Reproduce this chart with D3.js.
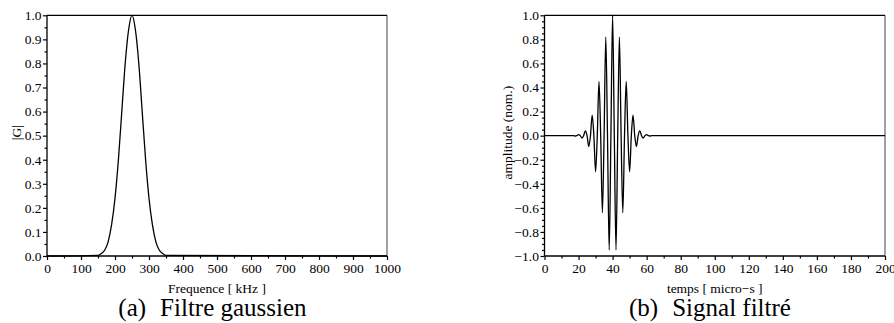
<!DOCTYPE html>
<html><head><meta charset="utf-8">
<script src="https://cdn.jsdelivr.net/npm/d3@7"></script>
<style>
html,body{margin:0;padding:0;background:#fff;}
svg{display:block;}
svg text{font-family:"Liberation Serif","Tinos","DejaVu Serif",serif !important;fill:#000;}
</style></head>
<body>
<svg id="chart" width="894" height="323"></svg>
<script>
// ---- Data ----
// (a) Gaussian filter |G| vs frequency [kHz]
const freqKHz = [0, 150, 160, 170, 180, 190, 200, 210, 220, 230, 240, 250, 260, 270, 280, 290, 300, 310, 320, 330, 340, 350, 1000];
const gainG   = [0, 0.003, 0.01, 0.025, 0.06, 0.13, 0.24, 0.40, 0.60, 0.80, 0.94, 1.0, 0.94, 0.80, 0.60, 0.40, 0.24, 0.13, 0.06, 0.025, 0.01, 0.003, 0];
// (b) filtered signal amplitude vs time [micro-s]
const timeUs = [0, 17, 18, 19, 20, 21, 22, 23, 24, 25, 26, 27, 28, 29, 30, 31, 32, 33, 34, 35, 36, 37, 38, 39, 40,
                41, 42, 43, 44, 45, 46, 47, 48, 49, 50, 51, 52, 53, 54, 55, 56, 57, 58, 59, 60, 61, 62, 63, 200];
const amplitude = [0, 0, -0.003, 0, 0.008, 0, -0.02, 0, 0.04, 0, -0.09, 0, 0.17, 0, -0.30, 0, 0.45, 0, -0.64, 0, 0.82, 0, -0.95, 0, 1.0,
                   0, -0.95, 0, 0.82, 0, -0.64, 0, 0.45, 0, -0.30, 0, 0.17, 0, -0.09, 0, 0.04, 0, -0.02, 0, 0.008, 0, -0.003, 0, 0];
// axis tick values
const ticksXa = [0, 100, 200, 300, 400, 500, 600, 700, 800, 900, 1000];
const minorXa = [50, 150, 250, 350, 450, 550, 650, 750, 850, 950];
const ticksYa = [0, 0.1, 0.2, 0.3, 0.4, 0.5, 0.6, 0.7, 0.8, 0.9, 1.0];
const minorYa = [0.05, 0.15, 0.25, 0.35, 0.45, 0.55, 0.65, 0.75, 0.85, 0.95];
const ticksXb = [0, 20, 40, 60, 80, 100, 120, 140, 160, 180, 200];
const minorXb = [10, 30, 50, 70, 90, 110, 130, 150, 170, 190];
const ticksYb = [-1.0, -0.8, -0.6, -0.4, -0.2, 0, 0.2, 0.4, 0.6, 0.8, 1.0];
const minorYb = d3.range(-0.95, 1.0, 0.05).map(v => +v.toFixed(2)).filter(v => !ticksYb.some(t => Math.abs(t - v) < 1e-6));

const FONT = '"Liberation Serif", Tinos, "DejaVu Serif", serif';
const svg = d3.select("#chart");
const fmt = d3.format(".1f");
const fmtMinus = v => fmt(v).replace("-", "\u2212");

function panel(cfg) {
  const x = d3.scaleLinear().domain(cfg.xDomain).range([cfg.left, cfg.right]);
  const y = d3.scaleLinear().domain(cfg.yDomain).range([cfg.bottom, cfg.top]);
  const g = svg.append("g");

  // minor ticks
  g.append("g").attr("transform", `translate(0,${cfg.bottom})`)
    .call(d3.axisBottom(x).tickValues(cfg.minorX).tickSize(2.5).tickFormat(""))
    .call(s => s.select(".domain").remove());
  g.append("g").attr("transform", `translate(${cfg.left},0)`)
    .call(d3.axisLeft(y).tickValues(cfg.minorY).tickSize(2.5).tickFormat(""))
    .call(s => s.select(".domain").remove());

  // major axes
  const ax = g.append("g").attr("transform", `translate(0,${cfg.bottom})`)
    .call(d3.axisBottom(x).tickValues(cfg.ticksX).tickSize(4).tickPadding(3).tickFormat(d3.format("d")));
  ax.attr("font-family", FONT).attr("font-size", 13.5);
  ax.select(".domain").remove();
  ax.selectAll("text").attr("dy", "0.72em");

  const ay = g.append("g").attr("transform", `translate(${cfg.left},0)`)
    .call(d3.axisLeft(y).tickValues(cfg.ticksY).tickSize(4).tickPadding(1.5).tickFormat(fmtMinus));
  ay.attr("font-family", FONT).attr("font-size", 13.5);
  ay.select(".domain").remove();

  g.selectAll(".tick line").attr("stroke", "#000").attr("stroke-width", 1.2);

  // frame: right border gray, others black
  g.append("line").attr("x1", cfg.right).attr("x2", cfg.right).attr("y1", cfg.top).attr("y2", cfg.bottom)
    .attr("stroke", "#8a8a8a").attr("stroke-width", 1.6);
  g.append("line").attr("x1", cfg.left).attr("x2", cfg.right).attr("y1", cfg.top).attr("y2", cfg.top)
    .attr("stroke", "#000").attr("stroke-width", 1.3);
  g.append("line").attr("x1", cfg.left).attr("x2", cfg.right).attr("y1", cfg.bottom).attr("y2", cfg.bottom)
    .attr("stroke", "#000").attr("stroke-width", 1.3);
  g.append("line").attr("x1", cfg.left).attr("x2", cfg.left).attr("y1", cfg.top).attr("y2", cfg.bottom)
    .attr("stroke", "#000").attr("stroke-width", 1.3);

  // curve
  const pts = cfg.xs.map((v, i) => [v, cfg.ys[i]]);
  g.append("path").datum(pts)
    .attr("d", d3.line().x(d => x(d[0])).y(d => y(d[1])).curve(d3.curveMonotoneX))
    .attr("fill", "none").attr("stroke", "#000").attr("stroke-width", 1.3);

  // axis titles
  g.append("text").attr("x", (cfg.left + cfg.right) / 2).attr("y", 292.5)
    .attr("text-anchor", "middle").attr("font-family", FONT).attr("font-size", 13.5).text(cfg.xTitle);
  g.append("text").attr("transform", `translate(${cfg.yTitleX},${(cfg.top + cfg.bottom) / 2 - 3}) rotate(-90)`)
    .attr("text-anchor", "middle").attr("dy", "0.35em").attr("font-family", FONT).attr("font-size", 13.5).text(cfg.yTitle);

  // caption
  const cap = g.append("text").attr("x", cfg.capX).attr("y", 316).attr("text-anchor", "middle")
    .attr("font-family", FONT).attr("font-size", 25);
  cap.append("tspan").text(cfg.capA);
  cap.append("tspan").attr("dx", 14).text(cfg.capB);
}

panel({
  left: 47, right: 387, top: 15.3, bottom: 256,
  xDomain: [0, 1000], yDomain: [0, 1],
  ticksX: ticksXa, minorX: minorXa, ticksY: ticksYa, minorY: minorYa,
  xs: freqKHz, ys: gainG,
  xTitle: "Frequence [ kHz ]", yTitle: "|G|", yTitleX: 16,
  capX: 212.5, capA: "(a)", capB: "Filtre gaussien"
});

panel({
  left: 544.5, right: 885, top: 15.3, bottom: 256,
  xDomain: [0, 200], yDomain: [-1, 1],
  ticksX: ticksXb, minorX: minorXb, ticksY: ticksYb, minorY: minorYb,
  xs: timeUs, ys: amplitude,
  xTitle: "temps [ micro\u2212s ]", yTitle: "amplitude (nom.)", yTitleX: 507,
  capX: 710, capA: "(b)", capB: "Signal filtré"
});
</script>
</body></html>
